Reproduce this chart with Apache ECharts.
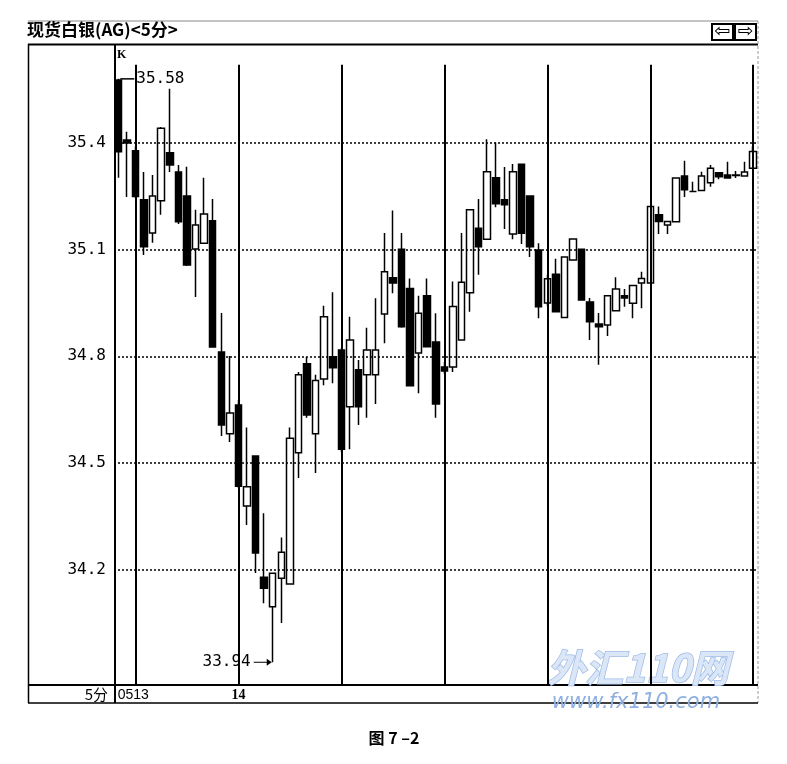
<!DOCTYPE html>
<html><head><meta charset="utf-8">
<script src="https://cdn.jsdelivr.net/npm/echarts@6/dist/echarts.min.js"></script>
<style>html,body{margin:0;padding:0;background:#fff}#c{width:787px;height:764px}</style>
</head><body><div id="c"></div>
<script>
// 5-minute bars
const opens  = [35.577,35.408,35.378,35.240,35.147,35.237,35.372,35.318,35.251,35.102,
                35.118,35.181,34.812,34.582,34.663,34.379,34.520,34.179,34.096,34.176,
                34.160,34.529,34.779,34.582,34.736,34.799,34.818,34.658,34.762,34.748,
                34.748,34.919,35.021,35.101,34.991,34.809,34.970,34.840,34.770,34.770,
                34.846,34.979,35.160,35.129,35.302,35.240,35.144,35.340,35.251,35.099,
                34.950,35.031,34.909,35.071,35.101,34.953,34.891,34.888,34.928,34.970,
                34.949,35.006,35.006,35.198,35.169,35.178,35.307,35.263,35.266,35.288,
                35.316,35.310,35.310,35.307,35.329];
const closes = [35.375,35.400,35.249,35.108,35.251,35.441,35.338,35.178,35.057,35.169,
                35.200,34.826,34.607,34.641,34.435,34.433,34.247,34.148,34.190,34.249,
                34.570,34.748,34.635,34.732,34.911,34.768,34.539,34.846,34.658,34.818,
                34.818,35.038,35.006,34.883,34.717,34.921,34.827,34.666,34.759,34.940,
                35.008,35.212,35.108,35.319,35.229,35.226,35.319,35.146,35.108,34.939,
                35.018,34.925,35.079,35.130,34.958,34.897,34.883,34.970,34.989,34.964,
                34.999,35.019,35.221,35.179,35.179,35.301,35.268,35.263,35.307,35.329,
                35.305,35.301,35.308,35.318,35.376];
const lows   = [35.302,35.248,35.245,35.085,35.119,35.198,35.318,35.172,35.054,34.967,
                35.116,34.826,34.576,34.559,34.430,34.326,34.191,34.106,33.940,34.050,
                34.160,34.458,34.627,34.472,34.719,34.724,34.531,34.539,34.607,34.627,
                34.666,34.837,34.977,34.880,34.717,34.696,34.827,34.627,34.750,34.756,
                34.846,34.925,35.029,35.127,35.219,35.158,35.129,35.116,35.079,34.907,
                34.942,34.925,34.909,35.071,34.958,34.846,34.776,34.857,34.928,34.939,
                34.907,34.935,35.006,35.144,35.144,35.178,35.248,35.263,35.266,35.277,
                35.298,35.301,35.301,35.307,35.329];
const highs  = [35.580,35.431,35.390,35.318,35.310,35.445,35.552,35.338,35.333,35.212,
                35.302,35.242,34.922,34.801,34.677,34.600,34.520,34.359,34.190,34.291,
                34.600,34.756,34.798,34.748,34.942,34.980,34.823,34.911,34.790,34.880,
                34.963,35.147,35.210,35.147,35.019,34.970,35.019,34.921,34.784,35.010,
                35.147,35.212,35.242,35.410,35.401,35.332,35.341,35.340,35.251,35.118,
                35.029,35.074,35.079,35.130,35.101,34.964,34.922,34.970,35.022,34.989,
                34.999,35.038,35.221,35.221,35.179,35.301,35.350,35.291,35.319,35.338,
                35.316,35.347,35.321,35.347,35.390];
const priceTicks = [34.2, 34.5, 34.8, 35.1, 35.4];
const hourMarks = [2, 14, 26, 38, 50, 62, 74];
const timeTickLabels = {0: '0513', 14: '14'};
const yMin = 33.876, yMax = 35.678, vLineTop = 35.62;

const categories = opens.map((_, i) => String(i));
const ohlc = opens.map((o, i) => [o, closes[i], lows[i], highs[i]]);

const chart = echarts.init(document.getElementById('c'), null, {renderer: 'canvas'});
const lineS = (x1, y1, x2, y2, w, c, dash) => ({type: 'line', silent: true,
  shape: {x1, y1, x2, y2}, style: {stroke: c || '#000', lineWidth: w, lineDash: dash || null}});
const arrowPath = 'path://M0,3 L13,3 L13,0 L18,3.5 L13,7 L13,4 L0,4 Z';

chart.setOption({
  animation: false,
  backgroundColor: '#fff',
  grid: {left: 114, top: 44, width: 643.5, height: 641},
  xAxis: {
    type: 'category', data: categories, boundaryGap: true,
    axisLine: {show: false}, axisTick: {show: false}, splitLine: {show: false},
    axisLabel: {
      interval: (i) => timeTickLabels[i] !== undefined,
      formatter: (v, i) => i === 0 ? '{l|' + timeTickLabels[0] + '}' : '{s|' + (timeTickLabels[i] || '') + '}',
      margin: 3, color: '#000',
      rich: {
        l: {fontFamily: 'Liberation Sans', fontSize: 14, color: '#000', padding: [0, 0, 0, 30]},
        s: {fontFamily: 'Liberation Serif', fontWeight: 'bold', fontSize: 14, color: '#000'}
      }
    }
  },
  yAxis: {
    type: 'value', min: yMin, max: yMax,
    axisLine: {show: false}, axisTick: {show: false}, splitLine: {show: false},
    axisLabel: {customValues: priceTicks, formatter: (v) => v.toFixed(1), margin: 8,
      fontFamily: 'DejaVu Sans Mono', fontSize: 16, color: '#000'}
  },
  series: [{
    type: 'candlestick', data: ohlc, barWidth: 7, z: 3,
    itemStyle: {color: '#fff', color0: '#000', borderColor: '#000', borderColor0: '#000', borderWidth: 1.5},
    markLine: {
      silent: true, symbol: ['none', 'none'], label: {show: false}, animation: false,
      data: [
        ...priceTicks.map(v => ({yAxis: v, lineStyle: {type: [2, 2], color: '#000', width: 1.5}})),
        ...hourMarks.map(i => [
          {coord: [i, vLineTop], lineStyle: {type: 'solid', color: '#000', width: 2}},
          {coord: [i, yMin], lineStyle: {type: 'solid', color: '#000', width: 2}}
        ])
      ]
    },
    markPoint: {
      silent: true, animation: false,
      label: {show: true, color: '#000', fontFamily: 'DejaVu Sans Mono', fontSize: 16},
      data: [
        {type: 'max', valueDim: 'highest', symbol: 'rect', symbolSize: [14, 1.5], symbolOffset: [9, 0],
          itemStyle: {color: '#000'}, label: {position: 'right', distance: 2, formatter: (p) => p.value.toFixed(2)}},
        {type: 'min', valueDim: 'lowest', symbol: arrowPath, symbolKeepAspect: false, symbolSize: [18, 7], symbolOffset: [-10, 0],
          itemStyle: {color: '#000'}, label: {position: 'left', distance: 3, formatter: (p) => p.value.toFixed(2)}}
      ]
    }
  }],
  graphic: [
    lineS(28, 21, 758, 21, 1, '#888'),
    {type: 'text', left: 27, top: 21, style: {text: '现货白银(AG)<5分>', fontFamily: 'Noto Sans CJK SC', fontWeight: 'bold', fontSize: 17, fill: '#000'}},
    {type: 'rect', shape: {x: 712, y: 24, width: 21, height: 16}, style: {fill: '#fff', stroke: '#000', lineWidth: 2}},
    {type: 'rect', shape: {x: 735, y: 24, width: 21, height: 16}, style: {fill: '#fff', stroke: '#000', lineWidth: 2}},
    {type: 'text', x: 722.5, y: 32, style: {text: '⇦', fontFamily: 'DejaVu Sans', fontSize: 19, fill: '#000', align: 'center', verticalAlign: 'middle'}},
    {type: 'text', x: 745.5, y: 32, style: {text: '⇨', fontFamily: 'DejaVu Sans', fontSize: 19, fill: '#000', align: 'center', verticalAlign: 'middle'}},
    lineS(28, 44.5, 758, 44.5, 2),
    lineS(28.5, 44, 28.5, 703, 1.5),
    lineS(758, 21, 758, 703, 1, '#999', [3, 2]),
    lineS(115, 44, 115, 703, 2),
    lineS(28, 685, 758, 685, 2),
    lineS(28, 703, 758, 703, 1.5),
    {type: 'text', x: 108, y: 694, style: {text: '5分', fontFamily: 'Noto Sans CJK SC', fontSize: 15, fill: '#000', align: 'right', verticalAlign: 'middle'}},
    {type: 'text', x: 117, y: 55, style: {text: 'K', fontFamily: 'Liberation Serif', fontWeight: 'bold', fontSize: 12, fill: '#000', verticalAlign: 'middle'}},
    {type: 'text', x: 394, y: 738, style: {text: '图 7 –2', fontFamily: 'Noto Sans CJK SC', fontWeight: 'bold', fontSize: 16, fill: '#000', align: 'center', verticalAlign: 'middle'}},
    {type: 'text', x: 638, y: 668, z: 1, style: {text: '外汇110网', fontFamily: 'Noto Sans CJK SC', fontStyle: 'italic', fontWeight: 'bold', fontSize: 38, fill: '#dbe6f7', stroke: '#9dbbe6', lineWidth: 1.5, align: 'center', verticalAlign: 'middle'}},
    {type: 'text', x: 636, y: 703, z: 1, style: {text: 'www.fx110.com', fontFamily: 'DejaVu Sans', fontStyle: 'italic', fontSize: 21, fill: '#8fb0e0', align: 'center', verticalAlign: 'middle'}}
  ]
});
</script></body></html>
